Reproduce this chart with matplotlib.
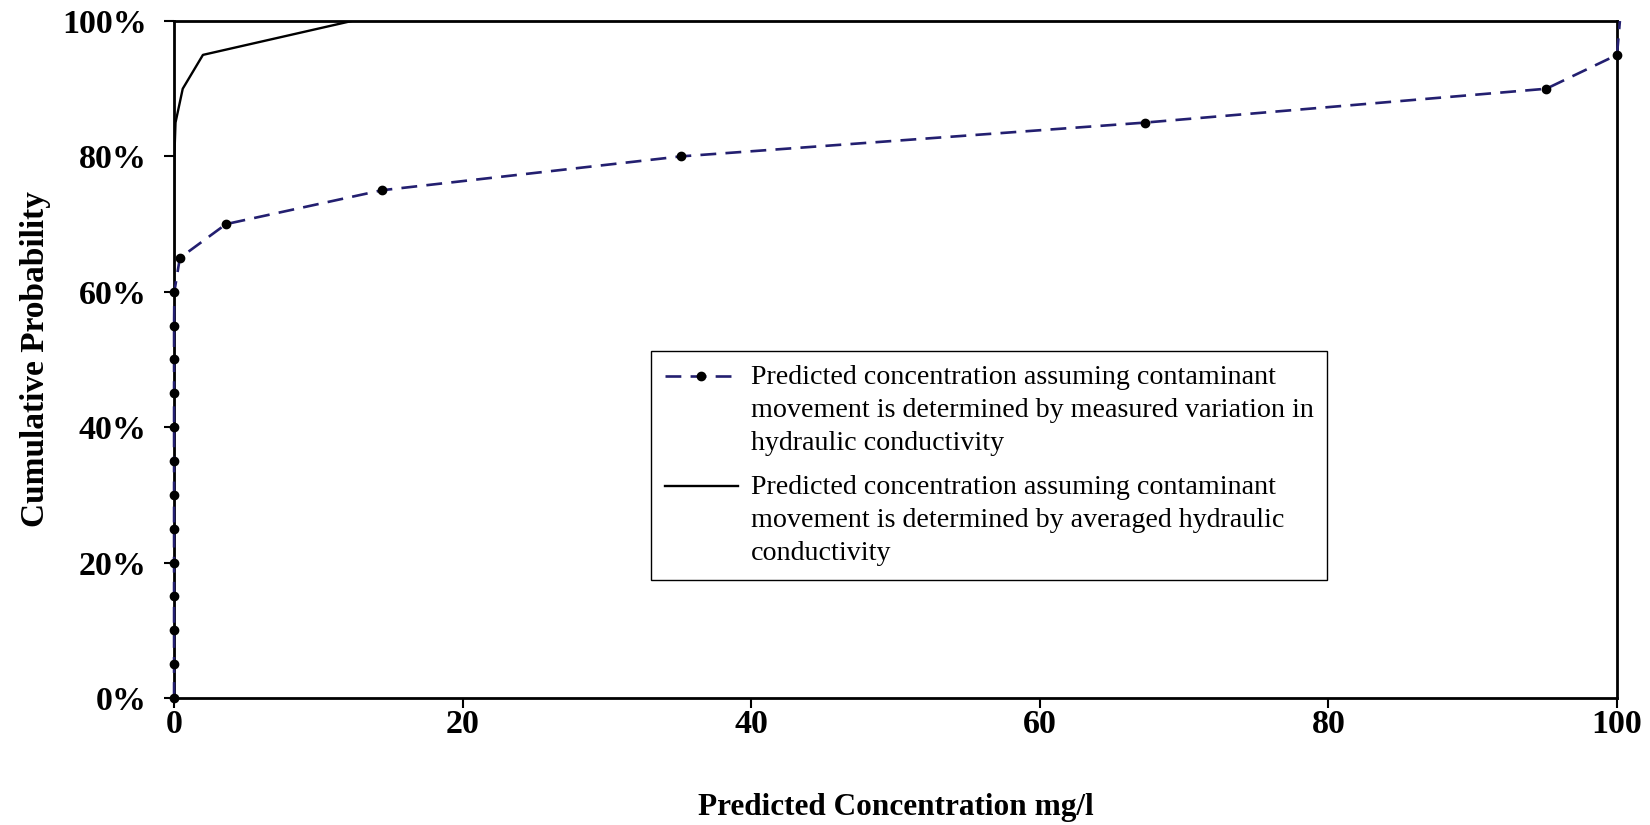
import numpy as np
import matplotlib
matplotlib.use("Agg")
import matplotlib.pyplot as plt
from matplotlib.ticker import PercentFormatter
from matplotlib.legend_handler import HandlerLine2D

# cumulative probability levels (%)
prob_var = [0, 5, 10, 15, 20, 25, 30, 35, 40, 45, 50, 55, 60, 65, 70, 75, 80, 85, 90, 95, 100]
conc_var = [0, 0, 0, 0, 0, 0, 0, 0, 0, 0, 0, 0, 0.02, 0.4, 3.6, 14.4, 35.1, 67.3, 95.1, 100.0, 100.2]

prob_avg = [0, 5, 10, 15, 20, 25, 30, 35, 40, 45, 50, 55, 60, 65, 70, 75, 80, 85, 90, 95, 100]
conc_avg = [0, 0, 0, 0, 0, 0, 0, 0, 0, 0, 0, 0, 0, 0, 0, 0, 0.02, 0.1, 0.6, 2.0, 12.3]

lab_var = ("Predicted concentration assuming contaminant\n"
           "movement is determined by measured variation in\n"
           "hydraulic conductivity")
lab_avg = ("Predicted concentration assuming contaminant\n"
           "movement is determined by averaged hydraulic\n"
           "conductivity")

LEG_FS = 20.2
LEG_LS = 1.43


class FirstLineHandler(HandlerLine2D):
    # put the legend handle next to the first text line instead of the middle
    def create_artists(self, legend, orig_handle, xdescent, ydescent,
                       width, height, fontsize, trans):
        shift = 2 * LEG_LS * fontsize * 0.85
        return super().create_artists(legend, orig_handle, xdescent,
                                      ydescent - shift, width, height,
                                      fontsize, trans)


plt.rcParams["font.family"] = ["Liberation Serif", "DejaVu Serif"]

fig = plt.figure(figsize=(16.5, 8.25), dpi=100)
ax = fig.add_axes([0.1055, 0.154, 0.8745, 0.8205])

l1, = ax.plot(conc_var, prob_var, color="#231f70", lw=1.9, ls=(0, (6, 3.5)),
              marker="o", ms=6, mfc="black", mec="black",
              markevery=list(range(len(prob_var) - 1)), clip_on=False,
              label=lab_var, zorder=3)
l2, = ax.plot(conc_avg, prob_avg, color="black", lw=1.7, label=lab_avg)

ax.set_xlim(0, 100)
ax.set_ylim(0, 100)
ax.set_xticks([0, 20, 40, 60, 80, 100])
ax.set_yticks([0, 20, 40, 60, 80, 100])
ax.yaxis.set_major_formatter(PercentFormatter(decimals=0))
ax.tick_params(direction="out", length=7, width=1.5, labelsize=24.5, pad=12.5)
ax.tick_params(axis="x", pad=1)
for lb in ax.get_xticklabels() + ax.get_yticklabels():
    lb.set_fontweight("bold")
for s in ax.spines.values():
    s.set_linewidth(2)

ax.set_xlabel("Predicted Concentration mg/l", fontsize=22.5, fontweight="bold", labelpad=38)
ax.set_ylabel("Cumulative Probability", fontsize=24, fontweight="bold", labelpad=8)

leg = fig.legend(handles=[l1, l2], loc="upper left", bbox_to_anchor=(0.3945, 0.5745),
                 fontsize=LEG_FS, frameon=True, fancybox=False, edgecolor="black",
                 framealpha=1, handlelength=2.6, handletextpad=0.45, borderpad=0.5,
                 labelspacing=0.66, borderaxespad=0,
                 handler_map={l1: FirstLineHandler(), l2: FirstLineHandler()})
leg.get_frame().set_linewidth(1.0)
for t in leg.get_texts():
    t.set_linespacing(LEG_LS)

fig.savefig("out.png", dpi=100)
